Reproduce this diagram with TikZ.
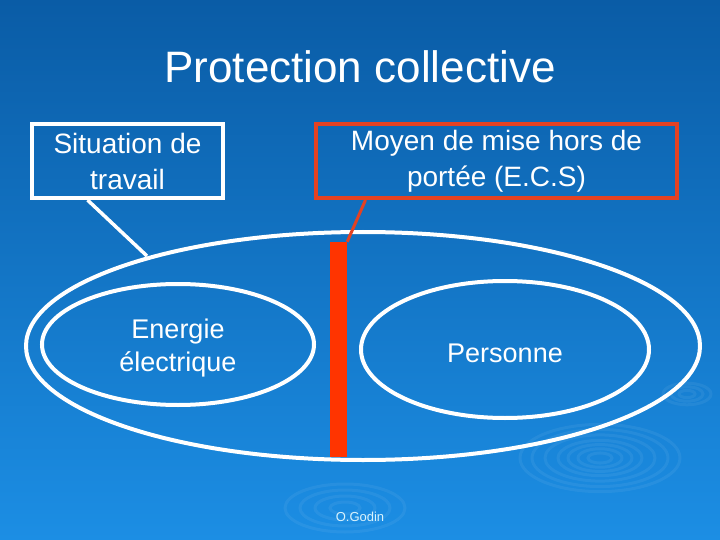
\documentclass[tikz,border=0pt]{standalone}
\usepackage{fontspec}
\setmainfont{Liberation Sans}
\usetikzlibrary{shapes.geometric, positioning}

\definecolor{bgtop}{RGB}{10,92,166}
\definecolor{bgbottom}{RGB}{28,142,228}
\definecolor{ecsred}{RGB}{228,66,34}
\definecolor{barred}{RGB}{255,52,0}

\begin{document}
\begin{tikzpicture}[x=1pt,y=-1pt,
  label box/.style={rectangle,draw=white,line width=4pt,text=white,inner sep=0pt,
    font=\fontsize{28}{36}\selectfont,align=center},
  zone/.style={ellipse,draw=white,line width=4pt,inner sep=0pt},
  zone text/.style={text=white,font=\fontsize{27}{33}\selectfont,align=center,yshift=-4pt},
  link/.style={draw=white,line width=3.5pt},
  ripple/.style={draw=white,opacity=0.06,line width=3pt}]

        % background
        \shade[top color=bgtop,bottom color=bgbottom] (0,0) rectangle (720,540);
        \useasboundingbox (0,0) rectangle (720,540);

        \foreach \r in {12,22,32,42,55,68,80}
          \draw[ripple] (600,458) ellipse ({\r*1pt} and {0.42*\r*1pt});
        \foreach \r in {8,16,24}
          \draw[ripple] (687,394) ellipse ({\r*1pt} and {0.45*\r*1pt});
        \foreach \r in {15,30,45,60}
          \draw[ripple] (345,508) ellipse ({\r*1pt} and {0.4*\r*1pt});

        \node[text=white,font=\fontsize{44}{50}\selectfont,anchor=base] (title) at (360,83) {Protection collective};

        \node[label box,minimum width=191pt,minimum height=74pt] (sit) at (127.5,161) {Situation de\\travail};
        \node[label box,draw=ecsred,minimum width=361pt,minimum height=74pt] (ecs) at (496.5,161) {Moyen de mise hors de\\portée (E.C.S)};

        \node[zone,minimum width=674pt,minimum height=228pt] (all) at (363,346) {};
        \node[zone,minimum width=272pt,minimum height=121pt,
          label={[zone text]center:{Energie\\électrique}}] (energie) at (178,344.5) {};
        \node[zone,minimum width=288pt,minimum height=137pt,
          label={[zone text]center:Personne}] (personne) at (505,349.5) {};

        \node[rectangle,fill=barred,inner sep=0pt,minimum width=17pt,minimum height=215pt] (bar) at (338.5,349.5) {};

        \coordinate (hit) at (147,256);
          \path
            ([xshift=-40pt]sit.south) edge [link] (hit)
            ([xshift=-131pt]ecs.south) edge [draw=ecsred,line width=3pt] (bar.north east);

        \node[text=white!85!cyan,font=\fontsize{13}{15}\selectfont,anchor=base] (author) at (360,521) {O.Godin};
        \end{tikzpicture}
\end{document}
